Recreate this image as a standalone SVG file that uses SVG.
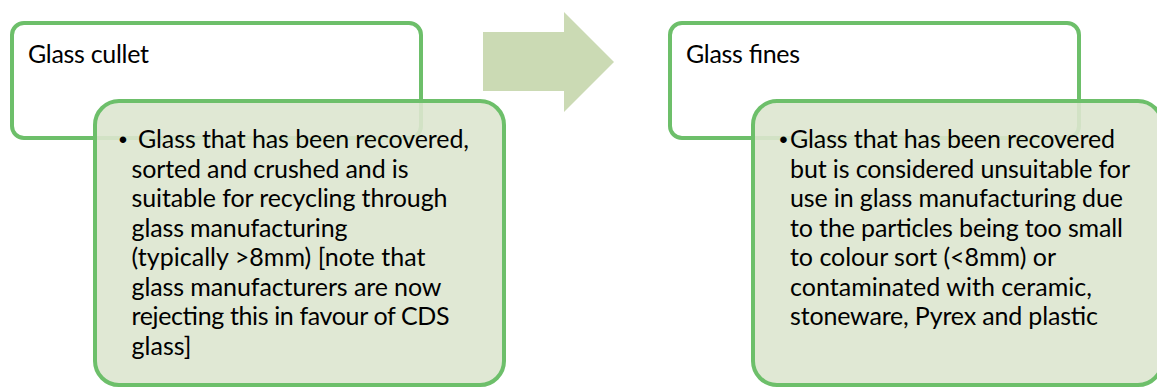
<svg xmlns="http://www.w3.org/2000/svg" width="1157" height="388" viewBox="0 0 1157 388">
<style>
.outer{fill:#ffffff;stroke:#6dbf6a;stroke-width:4}
.inner{fill:#dde6cf;fill-opacity:0.9;stroke:#6dbf6a;stroke-width:4}
.t{font-family:Lato,"Liberation Sans",Arial,sans-serif;font-size:25px;fill:#000000}
.b{font-family:"Liberation Sans",Arial,sans-serif;font-size:24px;fill:#000000}
.arrow{fill:#cbdab4}
</style>
<rect width="1157" height="388" fill="#ffffff"/>
<g id="connectors">
<polygon class="arrow" points="483,32 564,32 564,12 614,62 564,112 564,91 483,91"/>
</g>
<g id="cullet-title">
<rect class="outer" x="12" y="23" width="409" height="115" rx="12"/>
<text class="t" x="28" y="63" textLength="121" lengthAdjust="spacing">Glass cullet</text>
</g>
<g id="cullet-desc">
<rect class="inner" x="95" y="101" width="409" height="284" rx="24"/>
<text class="b" x="123" y="148" text-anchor="middle">•</text>
<text class="t" x="138" y="148" textLength="331" lengthAdjust="spacing">Glass that has been recovered,</text>
<text class="t" x="131.5" y="177.5" textLength="277" lengthAdjust="spacing">sorted and crushed and is</text>
<text class="t" x="131.5" y="207" textLength="316" lengthAdjust="spacing">suitable for recycling through</text>
<text class="t" x="131.5" y="236.5" textLength="216" lengthAdjust="spacing">glass manufacturing</text>
<text class="t" x="131.5" y="266" textLength="294" lengthAdjust="spacing">(typically &gt;8mm) [note that</text>
<text class="t" x="131.5" y="295.5" textLength="310" lengthAdjust="spacing">glass manufacturers are now</text>
<text class="t" x="131.5" y="325" textLength="318" lengthAdjust="spacing">rejecting this in favour of CDS</text>
<text class="t" x="131.5" y="354.5" textLength="60" lengthAdjust="spacing">glass]</text>
</g>
<g id="fines-title">
<rect class="outer" x="670" y="23" width="409" height="115" rx="12"/>
<text class="t" x="686" y="63" textLength="114" lengthAdjust="spacing">Glass fines</text>
</g>
<g id="fines-desc">
<rect class="inner" x="753" y="101" width="409" height="284" rx="24"/>
<text class="b" x="783.5" y="148" text-anchor="middle">•</text>
<text class="t" x="790" y="148" textLength="325" lengthAdjust="spacing">Glass that has been recovered</text>
<text class="t" x="790" y="177.5" textLength="340" lengthAdjust="spacing">but is considered unsuitable for</text>
<text class="t" x="790" y="207" textLength="333" lengthAdjust="spacing">use in glass manufacturing due</text>
<text class="t" x="790" y="236.5" textLength="333" lengthAdjust="spacing">to the particles being too small</text>
<text class="t" x="790" y="266" textLength="266" lengthAdjust="spacing">to colour sort (&lt;8mm) or</text>
<text class="t" x="790" y="295.5" textLength="302" lengthAdjust="spacing">contaminated with ceramic,</text>
<text class="t" x="790" y="325" textLength="308" lengthAdjust="spacing">stoneware, Pyrex and plastic</text>
</g>
</svg>
